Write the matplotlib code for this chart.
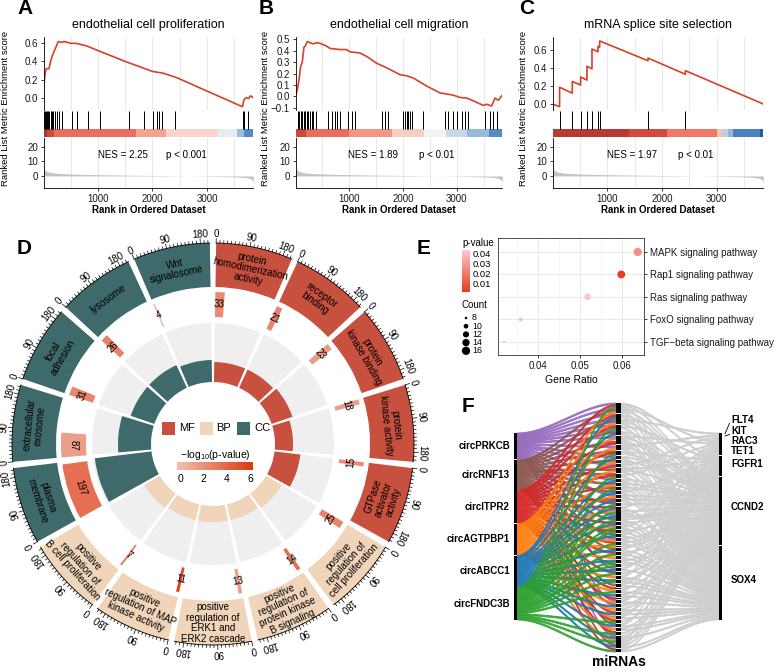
import numpy as np
import matplotlib
matplotlib.use("Agg")
import matplotlib.pyplot as plt
from matplotlib.patches import Wedge, Rectangle
from matplotlib.colors import LinearSegmentedColormap, Normalize
from matplotlib.cm import ScalarMappable

plt.rcParams.update({
    "font.family": ["Liberation Sans", "DejaVu Sans"],
    "font.size": 7,
    "mathtext.fontset": "custom",
    "mathtext.rm": "Liberation Sans",
    "axes.linewidth": 0.6,
})

# ---------------- data: GSEA (A-C) ----------------
gsea_titles = ["endothelial cell proliferation", "endothelial cell migration",
               "mRNA splice site selection"]
gsea_nes = ["NES = 2.25", "NES = 1.89", "NES = 1.97"]
gsea_pval = ["p < 0.001", "p < 0.01", "p < 0.01"]
n_genes = 3850

es_rank_a = [0, 15, 30, 50, 100, 130, 160, 200, 230, 270, 330, 380, 500, 600, 800,
             1000, 1500, 2000, 2200, 2450, 3650, 3680, 3720, 3760, 3800, 3850]
es_val_a = [0.0, 0.18, 0.27, 0.32, 0.32, 0.40, 0.46, 0.52, 0.56, 0.62, 0.61, 0.62,
            0.60, 0.60, 0.57, 0.52, 0.40, 0.29, 0.27, 0.22, -0.10, -0.02, 0.00,
            -0.01, 0.02, 0.00]
hits_a = [5, 28, 45, 58, 80, 107, 130, 150, 180, 211, 254, 290, 333, 517, 621, 823,
          1037, 1575, 1844, 2015, 2076, 2125, 2168, 2413, 3654, 3685, 3758]
bar_edges_a = [0, 60, 200, 1700, 2250, 3200, 3550, 3680, 3850]
bar_vals_a = [0.96, 0.76, 0.56, 0.36, 0.16, -0.04, -0.30, -0.56]

es_rank_b = [0, 37, 68, 93, 124, 155, 180, 217, 267, 330, 391, 450, 578, 640, 826,
             950, 1012, 1199, 1323, 1509, 1696, 1944, 2068, 2193, 2441, 2689, 2814,
             2938, 3062, 3186, 3311, 3497, 3560, 3652, 3714, 3776, 3839]
es_val_b = [0.0, 0.07, 0.16, 0.26, 0.30, 0.43, 0.44, 0.48, 0.47, 0.46, 0.47, 0.465,
            0.44, 0.42, 0.41, 0.41, 0.39, 0.38, 0.35, 0.29, 0.25, 0.19, 0.18, 0.16,
            0.09, 0.03, 0.02, 0.01, -0.01, -0.015, -0.04, -0.08, -0.07, -0.085,
            -0.015, -0.035, 0.005]
hits_b = [37, 68, 93, 124, 155, 180, 205, 236, 267, 298, 329, 379, 609, 671, 733,
          776, 826, 981, 1043, 1106, 1602, 1665, 1727, 2006, 2037, 2068, 2099, 2130,
          2161, 2379, 2783, 2845, 2925, 3000, 3093, 3155, 3217, 3528, 3621, 3683, 3745]
bar_edges_b = [0, 200, 1000, 1800, 2400, 2800, 3200, 3600, 3850]
bar_vals_b = [0.76, 0.56, 0.40, 0.20, 0.0, -0.15, -0.32, -0.55]

es_rank_c = [0, 128, 128, 360, 360, 512, 512, 628, 628, 720, 720, 830, 830, 860, 860,
             1744, 1744, 2427, 2427, 3850]
es_val_c = [0.0, -0.03, 0.185, 0.12, 0.25, 0.21, 0.30, 0.265, 0.42, 0.39, 0.61, 0.58,
            0.64, 0.63, 0.70, 0.48, 0.51, 0.33, 0.37, 0.0]
hits_c = [128, 360, 512, 628, 720, 830, 860, 1744, 2427]
bar_edges_c = [0, 1400, 2100, 3000, 3100, 3200, 3300, 3800, 3850]
bar_vals_c = [0.90, 0.74, 0.50, 0.25, -0.20, -0.33, -0.60, -0.90]

metric_rank = [0, 10, 30, 60, 100, 200, 350, 600, 1000, 1500, 2000, 2500, 3000,
               3400, 3600, 3700, 3780, 3830, 3850]
metric_val = [7.0, 5.0, 4.0, 3.2, 2.6, 2.0, 1.6, 1.2, 0.9, 0.6, 0.35, 0.1, -0.2,
              -0.5, -0.8, -1.1, -1.6, -2.6, -4.5]

# ---------------- data: GO circle (D) ----------------
go_terms = ["protein\nhomodimerization\nactivity", "receptor\nbinding",
            "protein\nkinase binding", "protein\nkinase activity",
            "GTPase\nactivator\nactivity",
            "positive\nregulation of\ncell proliferation",
            "positive\nregulation of\nprotein kinase\nB signaling",
            "positive\nregulation of\nERK1 and\nERK2 cascade",
            "positive\nregulation of MAP\nkinase activity",
            "positive\nregulation of\nB cell proliferation",
            "plasma\nmembrane", "extracellular\nexosome", "focal\nadhesion",
            "lysosome", "Wnt\nsignalosome"]
go_class = ["MF"] * 5 + ["BP"] * 5 + ["CC"] * 5
go_count = [33, 21, 23, 18, 15, 25, 14, 13, 11, 7, 197, 87, 31, 26, 4]
go_logp = [2.4, 2.6, 1.6, 1.4, 2.2, 2.6, 3.6, 1.4, 5.6, 3.0, 3.6, 1.4, 2.6, 2.8, 1.2]
go_inner = [20, 20, 22, 18, 26, 18, 16, 16, 16, 18, 57, 33, 25, 25, 22]
class_colors = {"MF": "#c8503f", "BP": "#f1d5ba", "CC": "#3e6a6c"}

# ---------------- data: KEGG dot plot (E) ----------------
kegg_terms = ["MAPK signaling pathway", "Rap1 signaling pathway",
              "Ras signaling pathway", "FoxO signaling pathway",
              "TGF\u2212beta signaling pathway"]
kegg_ratio = [0.0637, 0.0598, 0.0518, 0.0359, 0.0319]
kegg_count = [16, 15, 13, 9, 8]
kegg_p = [0.026, 0.0015, 0.043, 0.040, 0.041]

# ---------------- data: ceRNA sankey (F) ----------------
circ_names = ["circPRKCB", "circRNF13", "circITPR2", "circAGTPBP1", "circABCC1",
              "circFNDC3B"]
circ_targets = [
    [0, 1, 2, 3, 4, 5, 6, 8, 10, 12, 15, 19, 24, 30, 38, 47, 56],
    [1, 3, 5, 7, 9, 11, 13, 14, 16, 18, 21, 25, 29, 33, 37, 42, 48, 53, 58],
    [0, 2, 4, 7, 9, 12, 14, 17, 20, 22, 26, 28, 31, 34, 39, 43, 46, 50, 52, 55, 59],
    [1, 3, 6, 8, 11, 13, 16, 19, 23, 27, 30, 32, 35, 40, 44, 47, 49, 51, 54, 57],
    [2, 5, 10, 15, 18, 20, 22, 24, 26, 29, 33, 36, 38, 41, 45, 48, 50, 53, 56, 58],
    [0, 4, 9, 14, 17, 21, 23, 25, 27, 28, 31, 34, 36, 37, 39, 41, 44, 52, 55, 57, 59],
]
gene_names = ["FLT4", "KIT", "RAC3", "TET1", "FGFR1", "CCND2", "SOX4"]
gene_sources = [
    [3],
    [8],
    [12, 40],
    [1, 6, 14, 22, 29, 35, 44, 51, 57],
    [0, 4, 9, 13, 18, 24, 27, 33, 38, 42, 47, 53, 58],
    [0, 1, 2, 3, 5, 6, 7, 8, 9, 10, 11, 13, 15, 16, 17, 19, 20, 21, 23, 24, 25, 26,
     28, 30, 31, 32, 34, 36, 37, 39, 41, 43, 45, 46, 48, 49, 50, 52, 54, 55, 56, 57,
     58, 59],
    [0, 1, 2, 3, 4, 5, 6, 7, 8, 10, 11, 12, 13, 14, 15, 16, 17, 18, 19, 20, 22, 23,
     25, 26, 27, 28, 29, 30, 31, 33, 34, 35, 36, 38, 40, 41, 42, 44, 45, 47, 49, 50,
     51, 53, 54, 56, 58, 59],
]
n_mirna = 60
circ_colors = ["#9467bd", "#8c564b", "#d62728", "#ff7f0e", "#1f77b4", "#2ca02c"]

# ---------------- figure ----------------
W, H = 778, 671
fig = plt.figure(figsize=(W / 100, H / 100), dpi=100)


def px_axes(x0, y0, x1, y1):
    return fig.add_axes([x0 / W, 1 - y1 / H, (x1 - x0) / W, (y1 - y0) / H])


def ftext(x, y, s, **kw):
    return fig.text(x / W, 1 - y / H, s, **kw)


for lab, (lx, ly) in zip("ABCDEF", [(17, -1), (259, -1), (519, -1), (17, 239),
                                    (417, 239), (462, 397)]):
    ftext(lx, ly, lab, fontsize=15, fontweight="bold", ha="left", va="top")

# ----- A-C: GSEA -----
gsea_cmap = LinearSegmentedColormap.from_list("gsea", [
    (0.0, "#1f4e8c"), (0.2, "#4a80c0"), (0.35, "#9dbde0"), (0.5, "#f4f4f4"),
    (0.62, "#f8c8b8"), (0.75, "#f07a66"), (0.87, "#d34a3c"), (1.0, "#a3342f")])
gsea_norm = Normalize(-1, 1)
panels = [
    (es_rank_a, es_val_a, hits_a, bar_edges_a, bar_vals_a, (-0.136, 0.67),
     [0.0, 0.2, 0.4, 0.6]),
    (es_rank_b, es_val_b, hits_b, bar_edges_b, bar_vals_b, (-0.12, 0.52),
     [-0.1, 0.0, 0.1, 0.2, 0.3, 0.4, 0.5]),
    (es_rank_c, es_val_c, hits_c, bar_edges_c, bar_vals_c, (-0.067, 0.744),
     [0.0, 0.2, 0.4, 0.6]),
]
gsea_x = [(43.5, 253.3), (295.6, 502.3), (552.6, 763.2)]
ylab_x = [6, 266, 523]
tick_kw = dict(labelsize=7, length=2.5, width=0.6, pad=1.5, colors="#1a1a1a")

for k, (x0, x1) in enumerate(gsea_x):
    es_rank, es_val, hits, edges, vals, ylim, yticks = panels[k]

    ax_es = px_axes(x0, 37, x1, 110)
    ax_es.plot(es_rank, es_val, color="#d9402b", lw=1.2)
    ax_es.set_xlim(0, n_genes)
    ax_es.set_ylim(*ylim)
    ax_es.set_yticks(yticks)
    ax_es.set_yticklabels([f"{v:.1f}".replace("-", "\u2212") for v in yticks])
    ax_es.set_xticks([1000, 2000, 3000])
    ax_es.set_xticks([500, 1500, 2500, 3500], minor=True)
    ax_es.tick_params(axis="x", which="both", length=0, labelbottom=False)
    ax_es.tick_params(axis="y", **tick_kw)
    ax_es.grid(True, axis="x", which="both", color="#e4e4e4", lw=0.6)
    for s in ("top", "right", "bottom"):
        ax_es.spines[s].set_visible(False)

    ax_hit = px_axes(x0, 111, x1, 137)
    ax_hit.vlines(hits, 0.31, 1.0, color="black", lw=0.7)
    ax_hit.bar(edges[:-1], 0.31, width=np.diff(edges), align="edge",
               color=gsea_cmap(gsea_norm(np.array(vals))), lw=0)
    ax_hit.set_xlim(0, n_genes)
    ax_hit.set_ylim(0, 1)
    ax_hit.axis("off")

    ax_rk = px_axes(x0, 138, x1, 188)
    ax_rk.fill_between(metric_rank, 0, metric_val, color="#c4c4c4", lw=0)
    ax_rk.set_xlim(0, n_genes)
    ax_rk.set_ylim(-8.2, 25.9)
    ax_rk.set_yticks([0, 10, 20])
    ax_rk.set_xticks([1000, 2000, 3000])
    ax_rk.set_xticks([500, 1500, 2500, 3500], minor=True)
    ax_rk.tick_params(axis="both", which="major", **tick_kw)
    ax_rk.tick_params(axis="x", which="minor", length=0)
    ax_rk.grid(True, axis="x", which="both", color="#e4e4e4", lw=0.6)
    ax_rk.set_axisbelow(True)
    for s in ("top", "right"):
        ax_rk.spines[s].set_visible(False)
    ax_rk.text(1450, 14, gsea_nes[k], ha="center", va="center", fontsize=7)
    ax_rk.text(2620, 14, gsea_pval[k], ha="center", va="center", fontsize=7)

    xc = (x0 + x1) / 2
    ftext(xc, 25, gsea_titles[k], ha="center", va="center", fontsize=9)
    ftext(xc, 210, "Rank in Ordered Dataset", ha="center", va="center",
          fontsize=7, fontweight="bold")
    ftext(ylab_x[k], 108, "Ranked List Metric Enrichment score", rotation=90,
          ha="center", va="center", fontsize=6.8)

# ----- D: GO circle -----
ax_d = px_axes(0, 222, 440, 671)
ax_d.set_xlim(-213, 227)
ax_d.set_ylim(-227, 222)
ax_d.set_aspect("equal")
ax_d.axis("off")

p_cmap_go = LinearSegmentedColormap.from_list("go", ["#f0bcac", "#e03c14"])
p_norm_go = Normalize(0, 6)
R_BAND, BAND_W = 201, 44
R_CNT, CNT_W = 152, 25
R_RING, R_BASE = 121, 62
XMAX, INNER_MAX = 205, 59
n_terms = len(go_terms)
SEG = 360 / n_terms
GAP = 1.8
SPAN = SEG - GAP


def nice_rot(theta):
    t = theta % 360
    return t - 90 if t < 180 else t - 270


def polar(r, theta):
    th = np.radians(theta)
    return r * np.cos(th), r * np.sin(th)


for i in range(n_terms):
    col = class_colors[go_class[i]]
    a0 = 90 - i * SEG - GAP / 2
    a1 = a0 - SPAN
    ax_d.add_patch(Wedge((0, 0), R_BAND, a1, a0, width=BAND_W, fc=col, ec="none"))
    th = np.linspace(a1, a0, 40)
    ax_d.plot(*polar(R_BAND, th), color="black", lw=0.6)
    for x in range(0, 201, 10):
        ang = a0 - x / XMAX * SPAN
        ln = 4.5 if x in (0, 90, 180) else 2.6
        xa, ya = polar(R_BAND, ang)
        xb, yb = polar(R_BAND + ln, ang)
        ax_d.plot([xa, xb], [ya, yb], color="black", lw=0.5)
    for x in (0, 90, 180):
        ang = a0 - x / XMAX * SPAN
        tx, ty = polar(209.5, ang)
        ax_d.text(tx, ty, str(x), rotation=ang - 90, rotation_mode="anchor",
                  ha="center", va="center", fontsize=7)
    # count bar
    c = min(go_count[i], XMAX)
    ac = a0 - c / XMAX * SPAN
    ax_d.add_patch(Wedge((0, 0), R_CNT, ac, a0, width=CNT_W,
                         fc=p_cmap_go(p_norm_go(go_logp[i])), ec="none"))
    am = (a0 + ac) / 2
    tx, ty = polar(R_CNT - CNT_W / 2, am)
    ax_d.text(tx, ty, str(go_count[i]), rotation=nice_rot(am), rotation_mode="anchor",
              ha="center", va="center", fontsize=7)
    # inner ring
    ax_d.add_patch(Wedge((0, 0), R_RING, a1, a0, width=R_RING - R_BASE,
                         fc="#efefef", ec="none"))
    r_top = R_BASE + go_inner[i] / INNER_MAX * (R_RING - R_BASE)
    ax_d.add_patch(Wedge((0, 0), r_top, a1, a0, width=r_top - R_BASE, fc=col,
                         ec="none"))
    # term label
    amid = (a0 + a1) / 2
    tx, ty = polar(R_BAND - BAND_W / 2, amid)
    ax_d.text(tx, ty, go_terms[i], rotation=nice_rot(amid), rotation_mode="anchor",
              ha="center", va="center", fontsize=7, linespacing=1.05)

# centre legend
for j, cls in enumerate(["MF", "BP", "CC"]):
    lx = -51 + j * 37.5
    ax_d.add_patch(Rectangle((lx, 9.5), 13, 13, fc=class_colors[cls], ec="none"))
    ax_d.text(lx + 17, 16, cls, ha="left", va="center", fontsize=8)
ftext(215, 455, "\u2212log$_{10}$(p-value)", ha="center", va="center", fontsize=7.5)
cax_d = px_axes(177, 462, 253, 470)
grad = np.linspace(-0.26, 6.26, 200)[None, :]
cax_d.imshow(grad, aspect="auto", cmap=p_cmap_go, norm=p_norm_go,
             extent=(-0.26, 6.26, 0, 1))
cax_d.set_xlim(-0.26, 6.26)
cax_d.set_yticks([])
cax_d.set_xticks([0, 2, 4, 6])
cax_d.tick_params(axis="x", length=0, labelsize=7.5, pad=3)
for s in cax_d.spines.values():
    s.set_visible(False)

# ----- E: KEGG dot plot -----
p_cmap_k = LinearSegmentedColormap.from_list("kegg", ["#e83c1e", "#f7caca"])
p_norm_k = Normalize(0.0015, 0.043)


def dot_size(cnt):
    d_px = np.sqrt(6.25 + 7.84 * (np.asarray(cnt) - 8))
    return (d_px * 0.72) ** 2


ax_e = px_axes(498, 238, 644, 355)
ypos = np.arange(len(kegg_terms))[::-1]
ax_e.scatter(kegg_ratio, ypos, s=dot_size(kegg_count), c=kegg_p, cmap=p_cmap_k,
             norm=p_norm_k, lw=0, zorder=3)
ax_e.set_xlim(0.0305, 0.0652)
ax_e.set_ylim(-0.58, 4.62)
ax_e.set_xticks([0.04, 0.05, 0.06])
ax_e.set_xticklabels(["0.04", "0.05", "0.06"])
ax_e.set_xticks([0.035, 0.045, 0.055, 0.065], minor=True)
ax_e.set_yticks(ypos)
ax_e.set_yticklabels(kegg_terms)
ax_e.yaxis.tick_right()
ax_e.tick_params(axis="both", which="major", labelsize=7, length=2.5, width=0.6,
                 pad=2, colors="#1a1a1a")
ax_e.tick_params(axis="x", which="minor", length=0)
ax_e.grid(True, which="major", color="#e6e6e6", lw=0.6)
ax_e.grid(True, which="minor", axis="x", color="#efefef", lw=0.4)
ax_e.set_axisbelow(True)
for s in ax_e.spines.values():
    s.set_color("#333333")
ax_e.set_xlabel("Gene Ratio", fontsize=7.5, labelpad=3)

ftext(462, 243, "p-value", ha="left", va="center", fontsize=7)
cax_e = px_axes(462, 250, 470, 292)
cb = fig.colorbar(ScalarMappable(norm=p_norm_k, cmap=p_cmap_k), cax=cax_e)
cb.ax.set_ylim(0.001, 0.043)
cb.set_ticks([0.01, 0.02, 0.03, 0.04])
cb.set_ticklabels(["0.01", "0.02", "0.03", "0.04"])
cb.ax.tick_params(length=0, labelsize=6.8, pad=2)
cb.outline.set_visible(False)
ftext(462, 305, "Count", ha="left", va="center", fontsize=7)
ax_sz = px_axes(455, 312, 497, 357)
ax_sz.set_xlim(455, 497)
ax_sz.set_ylim(357, 312)
ax_sz.axis("off")
size_breaks = [8, 10, 12, 14, 16]
leg_y = 318 + np.arange(len(size_breaks)) * 8.2
ax_sz.scatter([466] * len(size_breaks), leg_y, s=dot_size(size_breaks), color="black",
              lw=0)
for yy, b in zip(leg_y, size_breaks):
    ax_sz.text(472, yy, str(b), ha="left", va="center", fontsize=6.3)

# ----- F: sankey -----
ax_f = px_axes(455, 395, 778, 671)
ax_f.set_xlim(455, 778)
ax_f.set_ylim(671, 395)
ax_f.axis("off")

SIDE_TOP, SIDE_BOT = 433, 620
MID_TOP, MID_BOT = 403, 652
XL, XM, XR = (514, 517), (616, 621), (719, 722)
NODE_GAP = 0.8

in_cnt = np.zeros(n_mirna, int)
out_cnt = np.zeros(n_mirna, int)
for t in circ_targets:
    for j in t:
        in_cnt[j] += 1
for srcs in gene_sources:
    for j in srcs:
        out_cnt[j] += 1
total = sum(len(t) for t in circ_targets)
u = (SIDE_BOT - SIDE_TOP - NODE_GAP * (len(circ_names) - 1)) / total

circ_top = SIDE_TOP + np.concatenate(
    [[0], np.cumsum([len(t) * u + NODE_GAP for t in circ_targets])[:-1]])
gene_gap = (SIDE_BOT - SIDE_TOP - total * u) / (len(gene_names) - 1)
gene_top = SIDE_TOP + np.concatenate(
    [[0], np.cumsum([len(s) * u + gene_gap for s in gene_sources])[:-1]])
mid_h = np.maximum(in_cnt, out_cnt) * u
mid_gap = (MID_BOT - MID_TOP - mid_h.sum()) / (n_mirna - 1)
mid_top = MID_TOP + np.concatenate([[0], np.cumsum(mid_h + mid_gap)[:-1]])

tt = np.linspace(0, 1, 30)
ss = 3 * tt ** 2 - 2 * tt ** 3


def band(xa, ya, xb, yb, **kw):
    xs = xa + (xb - xa) * tt
    top = ya + (yb - ya) * ss
    ax_f.fill(np.concatenate([xs, xs[::-1]]),
              np.concatenate([top, (top + u)[::-1]]), **kw)


in_slot = np.zeros(n_mirna, int)
for i, t in enumerate(circ_targets):
    for k, j in enumerate(sorted(t)):
        y0 = circ_top[i] + k * u
        off = (mid_h[j] - in_cnt[j] * u) / 2
        y1 = mid_top[j] + off + in_slot[j] * u
        in_slot[j] += 1
        band(XL[1], y0, XM[0], y1, fc=circ_colors[i], ec=circ_colors[i],
             alpha=0.85, lw=0.7)

out_slot = np.zeros(n_mirna, int)
for g, srcs in enumerate(gene_sources):
    for k, j in enumerate(sorted(srcs)):
        off = (mid_h[j] - out_cnt[j] * u) / 2
        y0 = mid_top[j] + off + out_slot[j] * u
        out_slot[j] += 1
        y1 = gene_top[g] + k * u
        band(XM[1], y0, XR[0], y1, fc="#c9c9c9", ec="#d2d2d2", lw=0.5)

for i, t in enumerate(circ_targets):
    ax_f.add_patch(Rectangle((XL[0], circ_top[i]), XL[1] - XL[0], len(t) * u,
                             fc="black", ec="none"))
    ax_f.text(XL[0] - 4, circ_top[i] + len(t) * u / 2, circ_names[i], ha="right",
              va="center", fontsize=7, fontweight="bold")
for j in range(n_mirna):
    ax_f.add_patch(Rectangle((XM[0], mid_top[j]), XM[1] - XM[0], mid_h[j],
                             fc="black", ec="none"))
label_nudge = [-13.5, -4.5, 2.5, 3.0, -2.0, -4.0, -3.0]
for g, srcs in enumerate(gene_sources):
    h = len(srcs) * u
    ax_f.add_patch(Rectangle((XR[0], gene_top[g]), XR[1] - XR[0], h, fc="black",
                             ec="none"))
    yc = gene_top[g] + h / 2
    yl = yc + label_nudge[g]
    ax_f.text(731, yl, gene_names[g], ha="left", va="center", fontsize=7,
              fontweight="bold")
    if g < 2:
        ax_f.plot([729.5, 725], [yl + 3, yc], color="black", lw=0.6)
ax_f.text((XM[0] + XM[1]) / 2, 662, "miRNAs", ha="center", va="center",
          fontsize=10, fontweight="bold")

fig.savefig("out.png", dpi=100)
